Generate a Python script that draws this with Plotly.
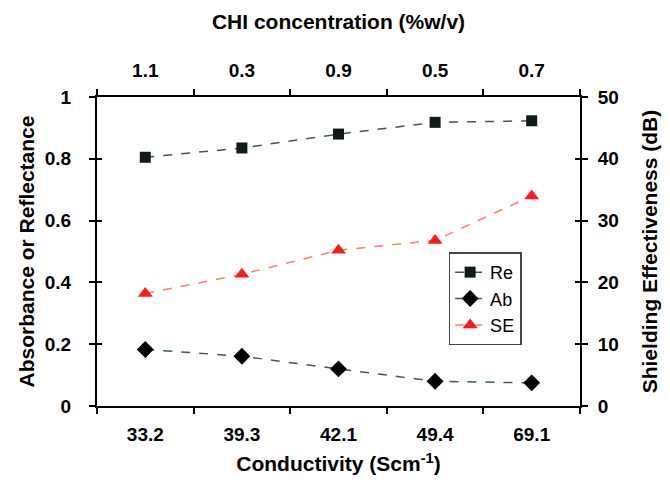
import plotly.graph_objects as go

conductivity = ["33.2", "39.3", "42.1", "49.4", "69.1"]
chi_conc = ["1.1", "0.3", "0.9", "0.5", "0.7"]
re_vals = [0.805, 0.835, 0.880, 0.918, 0.923]
ab_vals = [0.183, 0.161, 0.120, 0.080, 0.075]
se_vals = [18.2, 21.3, 25.2, 26.8, 34.0]
y_left_ticks = [0, 0.2, 0.4, 0.6, 0.8, 1]
y_right_ticks = [0, 10, 20, 30, 40, 50]

FONT = "Liberation Sans"
fig = go.Figure()

fig.add_trace(go.Scatter(
    x=conductivity, y=re_vals, name="Re", mode="lines+markers",
    line=dict(color="#3a5a5e", width=1.5, dash="dash"),
    marker=dict(symbol="square", size=11, color="#111a16"),
))
fig.add_trace(go.Scatter(
    x=conductivity, y=ab_vals, name="Ab", mode="lines+markers",
    line=dict(color="#3a5a6e", width=1.5, dash="dash"),
    marker=dict(symbol="diamond", size=13, color="#000000"),
))
fig.add_trace(go.Scatter(
    x=conductivity, y=se_vals, name="SE", mode="lines+markers", yaxis="y2",
    line=dict(color="#ff7f70", width=1.5, dash="dash"),
    marker=dict(symbol="triangle-up", size=13, color="#ff1a1a"),
))
# invisible traces carrying the extra axes
fig.add_trace(go.Scatter(x=chi_conc, y=re_vals, xaxis="x2", yaxis="y", mode="markers",
                         marker=dict(opacity=0), showlegend=False, hoverinfo="skip"))
fig.add_trace(go.Scatter(x=conductivity, y=re_vals, yaxis="y3", mode="markers",
                         marker=dict(opacity=0), showlegend=False, hoverinfo="skip"))
fig.add_trace(go.Scatter(x=conductivity, y=se_vals, yaxis="y4", mode="markers",
                         marker=dict(opacity=0), showlegend=False, hoverinfo="skip"))

TICK = 19
TITLE = 21
tickfont = dict(family=FONT, size=TICK, color="black")
titlefont = dict(family=FONT, size=TITLE, color="black")

def b(vals):
    return ["<b>%g</b>" % v for v in vals]

fig.update_layout(
    width=670, height=484,
    margin=dict(l=97, r=85, t=97, b=78),
    paper_bgcolor="white", plot_bgcolor="white",
    font=dict(family=FONT, color="black"),
    xaxis=dict(
        type="category", categoryorder="array", categoryarray=conductivity,
        range=[-0.5, 4.5], tickson="boundaries", ticks="outside", ticklen=6,
        tickwidth=2, tickcolor="black", showline=True, linecolor="black",
        linewidth=2, showgrid=False, zeroline=False,
        tickfont=tickfont, tickprefix="<b>", ticksuffix="</b>", ticklabelstandoff=10,
        title=dict(text="<b>Conductivity (Scm<sup>-1</sup>)</b>", font=titlefont, standoff=13),
    ),
    xaxis2=dict(
        type="category", categoryorder="array", categoryarray=chi_conc,
        overlaying="x", side="top", anchor="y",
        range=[-0.5, 4.5], tickson="boundaries", ticks="outside", ticklen=6,
        tickwidth=2, tickcolor="black", showline=True, linecolor="black",
        linewidth=2, showgrid=False, zeroline=False,
        tickfont=tickfont, tickprefix="<b>", ticksuffix="</b>", ticklabelstandoff=10,
        title=dict(text="<b>CHI concentration (%w/v)</b>", font=titlefont, standoff=25),
    ),
    yaxis=dict(
        range=[0, 1], tickvals=y_left_ticks, ticktext=b(y_left_ticks),
        ticks="outside", ticklen=6, tickwidth=2, tickcolor="black",
        showline=True, linecolor="black", linewidth=2, showgrid=False, zeroline=False,
        tickfont=tickfont, ticklabelstandoff=14,
        title=dict(text="<b>Absorbance or Reflectance</b>", font=titlefont, standoff=4),
    ),
    yaxis2=dict(
        range=[0, 50], tickvals=y_right_ticks, ticktext=b(y_right_ticks),
        overlaying="y", side="right", anchor="x",
        ticks="outside", ticklen=6, tickwidth=2, tickcolor="black",
        showline=True, linecolor="black", linewidth=2, showgrid=False, zeroline=False,
        tickfont=tickfont, ticklabelstandoff=6,
        title=dict(text="<b>Shielding Effectiveness (dB)</b>", font=titlefont, standoff=24),
    ),
    yaxis3=dict(
        range=[0, 1], tickvals=y_left_ticks, showticklabels=False,
        overlaying="y", side="left", anchor="x",
        ticks="inside", ticklen=5, tickwidth=2, tickcolor="black",
        showline=False, showgrid=False, zeroline=False,
    ),
    yaxis4=dict(
        range=[0, 50], tickvals=y_right_ticks, showticklabels=False,
        overlaying="y", side="right", anchor="x",
        ticks="inside", ticklen=5, tickwidth=2, tickcolor="black",
        showline=False, showgrid=False, zeroline=False,
    ),
    legend=dict(
        x=0.728, y=0.497, xanchor="left", yanchor="top",
        bgcolor="white", bordercolor="#444", borderwidth=1.5,
        font=dict(family=FONT, size=18, color="black"),
        tracegroupgap=0,
    ),
    showlegend=True,
)

fig.write_html("out.html")
